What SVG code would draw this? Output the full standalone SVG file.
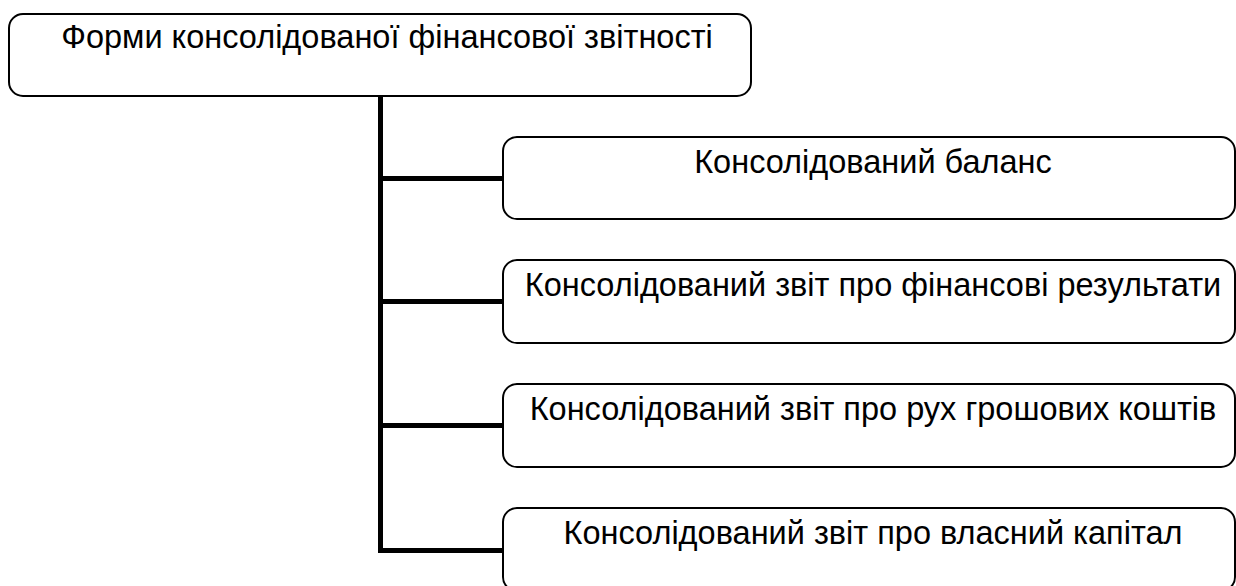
<svg xmlns="http://www.w3.org/2000/svg" width="1236" height="586" viewBox="0 0 1236 586">
<style>
.box{fill:#fff;stroke:#000;stroke-width:2}
.t{font-family:"Liberation Sans",Arial,sans-serif;font-size:32.5px;fill:#000;text-anchor:middle}
.c{stroke:#000;stroke-width:5;fill:none}
</style>
<rect width="1236" height="586" fill="#fff"/>
<g id="connectors">
<path class="c" d="M380.5 96 V550.5 H503"/>
<path class="c" d="M380.5 178.5 H503"/>
<path class="c" d="M380.5 301.5 H503"/>
<path class="c" d="M380.5 425.5 H503"/>
</g>
<g id="root">
<rect class="box" x="9" y="14" width="742" height="82" rx="14"/>
<text class="t" x="387" y="48">Форми консолідованої фінансової звітності</text>
</g>
<g id="n1">
<rect class="box" x="503" y="137" width="732" height="82" rx="14"/>
<text class="t" x="873" y="173">Консолідований баланс</text>
</g>
<g id="n2">
<rect class="box" x="503" y="260" width="732" height="83" rx="14"/>
<text class="t" x="873" y="296">Консолідований звіт про фінансові результати</text>
</g>
<g id="n3">
<rect class="box" x="503" y="384" width="732" height="83" rx="14"/>
<text class="t" x="873" y="420">Консолідований звіт про рух грошових коштів</text>
</g>
<g id="n4">
<rect class="box" x="503" y="508" width="732" height="83" rx="14"/>
<text class="t" x="873" y="544">Консолідований звіт про власний капітал</text>
</g>
</svg>
